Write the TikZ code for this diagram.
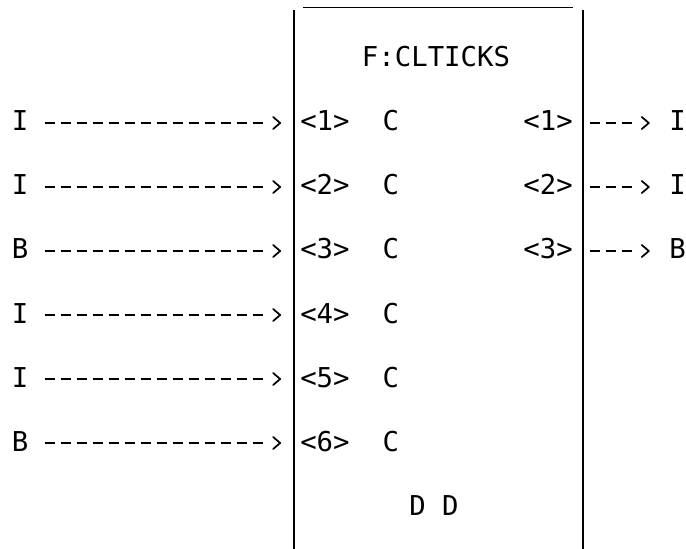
\documentclass[tikz,border=0pt]{standalone}
\usepackage{fontspec}
\newfontfamily\monofam{DejaVu Sans Mono}
\usetikzlibrary{arrows.meta}
\begin{document}
\begin{tikzpicture}[x=0.75pt,y=-0.75pt,
  lbl/.style={font={\monofam\fontsize{20.5pt}{24pt}\selectfont}, inner sep=0pt, text height=15pt, text depth=3pt},
  conn/.style={line width=1.5pt, dash pattern=on 7.5pt off 4.5pt},
  conntip/.style={line width=1.3pt, -{Straight Barb[length=5.25pt,width=9pt,round]}},
  frameline/.style={line width=1.5pt},
  topline/.style={line width=1.1pt}]
\fill[white] (0,0) rectangle (686,549);
\useasboundingbox (0,0) rectangle (686,549);

% box
\coordinate (bl) at (294,549);
\coordinate (tl) at (294,10);
\coordinate (br) at (583,549);
\coordinate (tr) at (583,10);
\coordinate (t1) at (303,7.5);
\coordinate (t2) at (573,7.5);
\draw[frameline] (bl) -- (tl);
\draw[frameline] (br) -- (tr);
\draw[topline] (t1) -- (t2);

\node[lbl, anchor=base] (title) at (436,67) {F:CLTICKS};
\node[lbl, anchor=base] (dd) at (434,515) {D D};

% inputs
\foreach \i/\t [count=\k] in {1/I,2/I,3/B,4/I,5/I,6/B}{
  \pgfmathsetmacro{\yb}{131+64*(\k-1)}
  \node[lbl, anchor=base] (in\i) at (20,\yb) {\t};
  \node[lbl, anchor=base west] (p\i) at (300,\yb) {<\i>\ \ C};
  \draw[conn, shorten <=12.6pt, shorten >=26.25pt] (in\i.east) -- (p\i.west);
  \draw[conntip, shorten <=188.1pt, shorten >=14.25pt] (in\i.east) -- (p\i.west);
}

% outputs
\foreach \i/\t [count=\k] in {1/I,2/I,3/B}{
  \pgfmathsetmacro{\yb}{131+64*(\k-1)}
  \node[lbl, anchor=base east] (q\i) at (573,\yb) {<\i>};
  \node[lbl, anchor=base] (out\i) at (677.5,\yb) {\t};
  \draw[conn, shorten <=12.75pt, shorten >=25pt] (q\i.east) -- (out\i.west);
  \draw[conntip, shorten <=56.25pt, shorten >=14.5pt] (q\i.east) -- (out\i.west);
}
\end{tikzpicture}
\end{document}
